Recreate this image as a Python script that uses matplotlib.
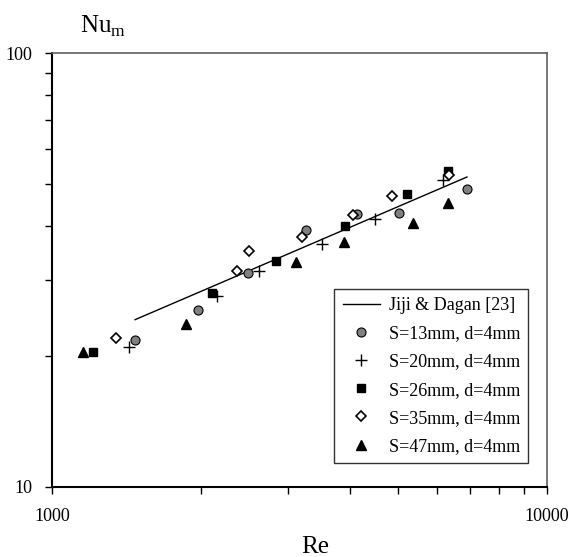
import matplotlib
matplotlib.use("Agg")
import matplotlib.pyplot as plt
from matplotlib.ticker import LogLocator, NullFormatter, FixedLocator, FixedFormatter

plt.rcParams["font.family"] = ["Liberation Serif", "DejaVu Serif"]
plt.rcParams["mathtext.fontset"] = "custom"
plt.rcParams["mathtext.rm"] = "Liberation Serif"

#
# values
#
re_s13 = [1472, 1972, 2489, 3261, 4131, 5023, 6892]
nu_s13 = [21.8, 25.6, 31.1, 39.1, 42.6, 42.8, 48.6]

re_s20 = [1431, 2154, 2619, 3510, 4494, 6166]
nu_s20 = [21.0, 27.5, 31.4, 36.3, 41.4, 51.0]

re_s26 = [1210, 2105, 2835, 3908, 5214, 6310]
nu_s26 = [20.5, 28.0, 33.2, 39.9, 47.3, 53.5]

re_s35 = [1347, 2364, 2500, 3200, 4056, 4863, 6340]
nu_s35 = [22.0, 31.4, 35.0, 37.7, 42.3, 46.8, 52.4]

re_s47 = [1155, 1865, 3111, 3890, 5359, 6310]
nu_s47 = [20.5, 23.7, 33.0, 36.7, 40.6, 45.1]

re_jiji = [1472, 2835, 6892]
nu_jiji = [24.3, 33.5, 51.8]

labels = ["Jiji & Dagan [23]", "S=13mm, d=4mm", "S=20mm, d=4mm",
          "S=26mm, d=4mm", "S=35mm, d=4mm", "S=47mm, d=4mm"]

fig = plt.figure(figsize=(5.73, 5.57), dpi=100)
ax = fig.add_axes([0.0908, 0.1257, 0.8638, 0.7791])

ax.plot(re_jiji, nu_jiji, color="black", lw=1.0, label=labels[0])
ax.plot(re_s13, nu_s13, ls="none", marker="o", ms=6.5, mfc="#808080", mec="black", mew=0.8, label=labels[1])
ax.plot(re_s20, nu_s20, ls="none", marker="+", ms=8, color="black", mew=1.0, label=labels[2])
ax.plot(re_s26, nu_s26, ls="none", marker="s", ms=6, color="black", label=labels[3])
ax.plot(re_s35, nu_s35, ls="none", marker="D", ms=5.5, mfc="white", mec="black", mew=1.2, label=labels[4])
ax.plot(re_s47, nu_s47, ls="none", marker="^", ms=7.5, color="black", label=labels[5])

ax.set_xscale("log")
ax.set_yscale("log")
ax.set_xlim(1000, 10000)
ax.set_ylim(10, 100)

ax.xaxis.set_major_locator(FixedLocator([1000, 10000]))
ax.xaxis.set_major_formatter(FixedFormatter(["1000", "10000"]))
ax.yaxis.set_major_locator(FixedLocator([10, 100]))
ax.yaxis.set_major_formatter(FixedFormatter(["10", "100"]))
ax.xaxis.set_minor_locator(LogLocator(base=10, subs=range(2, 10)))
ax.yaxis.set_minor_locator(LogLocator(base=10, subs=range(2, 10)))
ax.xaxis.set_minor_formatter(NullFormatter())
ax.yaxis.set_minor_formatter(NullFormatter())

ax.tick_params(which="both", direction="out", length=5, width=1, labelsize=13)
ax.tick_params(axis="x", pad=10)
ax.tick_params(axis="y", pad=9)
ax.tick_params(which="both", top=False, right=False)

for s in ["left", "bottom"]:
  ax.spines[s].set_linewidth(1.5)
  ax.spines[s].set_color("black")
for s in ["top", "right"]:
  ax.spines[s].set_linewidth(1.2)
  ax.spines[s].set_color("#606060")

fig.text(0.525, 0.008, "Re", fontsize=18, ha="left", va="baseline")
fig.text(0.14, 0.941, "Nu$_\\mathrm{m}$", fontsize=18, ha="left", va="baseline")

leg = ax.legend(loc="lower right", bbox_to_anchor=(0.962, 0.055), borderaxespad=0,
                fontsize=13, frameon=True, fancybox=False, edgecolor="black",
                handlelength=2.1, handletextpad=0.45, numpoints=1, labelspacing=0.62,
                borderpad=0.45)
leg.get_frame().set_linewidth(1.0)

fig.savefig("out.png", dpi=100)
